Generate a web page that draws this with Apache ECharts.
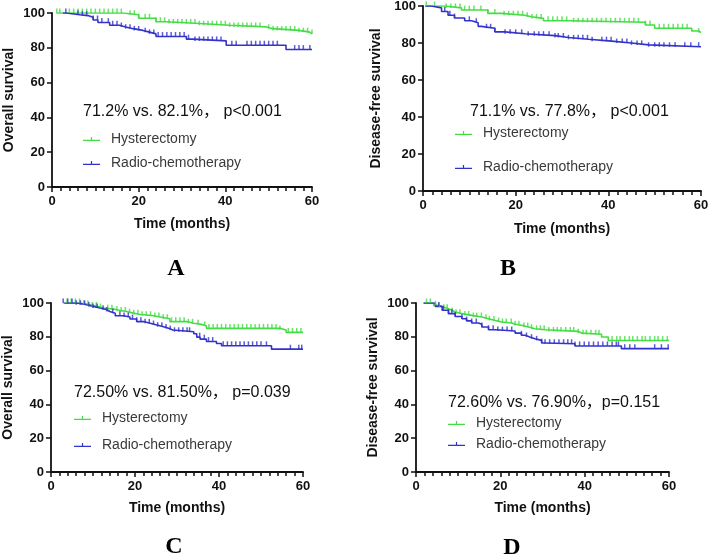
<!DOCTYPE html>
<html><head><meta charset="utf-8">
<script src="https://cdn.jsdelivr.net/npm/echarts/dist/echarts.min.js"></script>
<style>html,body{margin:0;padding:0;background:#fff}#c{width:709px;height:557px}</style>
</head><body><div id="c"></div>
<script>
// ---------- data ----------
const panelLetters = ['A', 'B', 'C', 'D'];
const yTitles = ['Overall survival', 'Disease-free survival', 'Overall survival', 'Disease-free survival'];
const xTitle = 'Time (months)';
const notes = ['71.2% vs. 82.1%， p<0.001', '71.1% vs. 77.8%， p<0.001', '72.50% vs. 81.50%， p=0.039', '72.60% vs. 76.90%，p=0.151'];
const groups = ['Hysterectomy', 'Radio-chemotherapy'];
const xTickValues = [0, 20, 40, 60];
const yTickValues = [0, 20, 40, 60, 80, 100];

// step curves: [time, survival %]
const hystA = [[1,100],[16.4,99],[20,97],[24,95],[26.4,94],[34,93],[41,92],[49.5,91],[51,90],[57,89],[59.5,88],[60,88]];
const radA = [[2.5,100],[3.3,99],[6.4,98.5],[8.3,97.5],[9.5,96],[10.6,94.5],[13.3,93],[15.6,92],[17,91],[18.7,90],[21,89],[22.5,88],[24,86.5],[31,85],[32.5,84],[40.2,81.5],[54,79],[60,79]];
const hystB = [[0.5,100],[4.7,99],[8.3,97.8],[14,96],[17,95],[22,94.2],[23.4,93.3],[26,92],[31.4,91.2],[48,89.7],[50,88],[58,86.5],[59.5,85.7],[60,85.7]];
const radB = [[0.5,100],[1.8,99],[4,97],[5.4,95],[6.8,93.5],[9,92],[10.5,91],[11.9,89],[12.6,88],[15.5,86],[17.7,85],[22,84],[28.5,83],[31.4,82],[35.7,81],[40.7,80],[45,79],[48.7,78],[60,78]];
const hystC = [[3.5,100],[7,99],[9.3,98],[11,97],[12.5,96.4],[14.9,95.6],[16.5,95],[18,94],[19.6,93.3],[21,92.5],[24.4,91.7],[26,90.7],[28.3,89],[32.3,88],[34,87.5],[35.5,86.5],[37,85],[54.5,84],[56,82.6],[60,82.6]];
const radC = [[3,100],[6,99],[8.5,98],[10,97],[11.7,96],[13.3,95],[14,94],[15.3,92.5],[17.3,91.7],[18.8,90.5],[20.4,89],[22,88],[23.6,87],[25.2,86],[26.8,85],[28,84],[29,83],[34,81.8],[34.7,79.8],[35.5,78.6],[37,77.2],[39.4,76],[40.6,74.7],[52.5,72.7],[60,72.7]];
const hystD = [[1.8,100],[4.2,98.6],[5.4,97.6],[6.5,96.6],[7.7,95.7],[8.5,94.7],[9.3,93.7],[10.9,92.7],[13.2,91.7],[15.6,90.7],[17.2,89.7],[18.8,88.8],[20.3,88.2],[22.7,87.4],[23.5,86.8],[25,85.8],[26.7,84.8],[28.2,84.2],[30.6,83.2],[38.5,82.2],[39.3,81.5],[44,79.9],[45.6,77.8],[60,77.8]];
const radD = [[1.8,100],[4.6,98],[6.2,95.7],[7.7,93.7],[9.3,92],[10.9,90.7],[12,89.4],[13.2,88.2],[14.8,87.4],[15.6,85.8],[17.2,84.2],[18.8,83.4],[23.5,82.2],[25,80.9],[25.9,79.9],[27,78.9],[28.2,77.9],[29.8,76.3],[30.6,75.9],[37.7,74.6],[48.7,73],[60,73]];

// censored times (months)
const censHystA = [1.1,1.8,4,5,6,7,8,9,10,11,12,13,14,15,16,18,19,20,21.5,22.5,24,25,26,27,28,29,30,31,32,33,34,35,36,37,38,39,40,41,42,43,44,45,46,47,48,50,51,52,53,54,55,56,57,58,59,60];
const censRadA = [3.2,6,7,8,9.5,10.5,11.5,13,14,15,16,17,18,19,20,21.5,22.5,23.5,24.5,25.5,26.5,27.5,28.5,29.5,30.5,31.5,33,34,35,36,37,38,39,41.5,42.5,45,46,47,48,49,50,51,52,56,57,58,59.5];
const censHystB = [0.7,2.5,5,6,7,8,9,10,11,12.5,14,15.5,17.5,18.5,19.5,20.5,21.5,22.5,23.5,24.5,25.5,27,28,29,30,31,32.5,33.5,34.5,35.5,36.5,37.5,38.5,39.5,40.5,41.5,42.5,43.5,44.5,45.5,46.5,48,49,51,52,53,54,55,56,57,59.5];
const censRadB = [4.7,5.8,6.8,10,11.5,13.7,14.6,15.5,17.7,18.8,20,21.3,22.7,24,25,26,27.2,28.5,29.2,30.3,31.4,32.5,33.5,34.5,35.5,36.5,38.6,39.6,40.6,41.8,43,44,45,46.2,47.2,48.7,50,51,52,53.2,54.4,56.5,57.8,59.5];
const censHystC = [3.8,4.8,5.8,6.8,7.8,8.8,9.8,10.8,11.8,13.5,14.5,15.7,16.7,17.7,18.7,19.7,20.7,21.7,22.7,23.7,24.7,25.7,26.7,27.7,28.7,29.7,30.7,31.7,32.7,33.7,35,36.6,37.6,38.6,39.6,40.6,41.6,42.6,43.6,44.6,45.6,46.6,47.6,48.6,49.6,50.6,51.6,52.6,53.6,54.5,56.5,57.5,58.5,59.5];
const censRadC = [2.9,4,5,6,7,8,9,10,11,12.4,13.3,14.7,16.4,17.4,18.4,19.4,20.4,21.4,22.4,23.4,24.4,25.4,26.4,27.4,28.4,29.4,30.4,31.4,32.4,33,35.4,36.5,37.5,38.5,41,42,43,44,45,46,47,48,49,50,51.3,57,59,59.7];
const censHystD = [2.5,3.4,4.6,5.5,6.6,7.4,8.6,9.5,10.4,11.6,12.5,13.6,14.4,15.5,16.6,17.4,18.5,19.6,20.5,21.4,22.6,23.5,24.4,25.6,26.5,27.4,28.6,29.5,30.4,31.5,32.6,33.5,34.4,35.5,36.6,37.4,38.5,39.6,40.4,41.5,42.6,43.4,46.5,47.6,48.4,49.5,50.6,51.4,52.5,53.6,54.4,55.5,56.6,57.4,58.5,59.6];
const censRadD = [5.4,6.5,7.7,8.5,9.3,10.9,12,13.2,14.3,15.6,17.2,18.3,19.4,20.5,21.6,22.7,25,26.2,27.4,28.6,29.8,30.6,31.7,32.8,33.9,35,36,36.9,37.7,38.8,39.9,41,42.1,43.2,44.3,45.4,46.5,47.5,48,49.5,50.7,51.9,56.6,58.2,59.8];

const hystCurves = [hystA, hystB, hystC, hystD];
const radCurves = [radA, radB, radC, radD];
const hystCens = [censHystA, censHystB, censHystC, censHystD];
const radCens = [censRadA, censRadB, censRadC, censRadD];

// ---------- layout / style ----------
const GREEN = '#44dd44', BLUE = '#3333cc';
const FONT = '"Liberation Sans", Arial, "Noto Sans CJK SC", sans-serif';
const grids = [
  {left: 52, top: 13, width: 260, height: 174},
  {left: 423, top: 6, width: 278, height: 185},
  {left: 51, top: 303, width: 252, height: 169},
  {left: 416, top: 303, width: 253, height: 169}
];
const yNameGap = [36, 40, 36, 36];
const xNameGap = [30, 31, 29, 29];
const notePos = [[83, 112], [470, 112], [74, 393], [448, 403]];
const legendPos = [{left: 83, top: 132, gap: 10}, {left: 455, top: 126, gap: 20}, {left: 74, top: 411, gap: 13}, {left: 448, top: 416, gap: 7}];
const letterPos = [[176, 269], [508, 269], [174, 547], [512, 548]];

function survAt(steps, t) {
  let v = steps[0][1];
  for (const p of steps) { if (p[0] <= t) v = p[1]; else break; }
  return v;
}

const xAxes = [], yAxes = [], series = [], legends = [], graphics = [];
const iconPath = 'path://M0,6L20,6L20,7.4L0,7.4Z M9.3,2.6L10.7,2.6L10.7,6L9.3,6Z';

for (let i = 0; i < 4; i++) {
  xAxes.push({
    type: 'value', gridIndex: i, min: xTickValues[0], max: xTickValues[xTickValues.length - 1],
    interval: xTickValues[1] - xTickValues[0],
    name: xTitle, nameLocation: 'middle', nameGap: xNameGap[i],
    nameTextStyle: {fontFamily: FONT, fontWeight: 'bold', fontSize: 14, color: '#111'},
    axisLine: {show: true, lineStyle: {color: '#111', width: 1.8}},
    axisTick: {show: true, length: 5, lineStyle: {color: '#111', width: 1.5}},
    minorTick: {show: true, splitNumber: 10, length: 4, lineStyle: {color: '#111', width: 1.5}},
    axisLabel: {fontFamily: FONT, fontWeight: 'bold', fontSize: 13, color: '#111', margin: 8},
    splitLine: {show: false}, minorSplitLine: {show: false}
  });
  yAxes.push({
    type: 'value', gridIndex: i, min: yTickValues[0], max: yTickValues[yTickValues.length - 1],
    interval: yTickValues[1] - yTickValues[0],
    name: yTitles[i], nameLocation: 'middle', nameGap: yNameGap[i], nameRotate: 90,
    nameTextStyle: {fontFamily: FONT, fontWeight: 'bold', fontSize: 14, color: '#111'},
    axisLine: {show: true, lineStyle: {color: '#111', width: 1.8}},
    axisTick: {show: true, length: 5, lineStyle: {color: '#111', width: 1.5}},
    axisLabel: {fontFamily: FONT, fontWeight: 'bold', fontSize: 13, color: '#111', margin: 7},
    splitLine: {show: false}
  });
  const curves = [hystCurves[i], radCurves[i]];
  const cens = [hystCens[i], radCens[i]];
  const cols = [GREEN, BLUE];
  for (let g = 0; g < 2; g++) {
    series.push({
      type: 'line', name: groups[g], xAxisIndex: i, yAxisIndex: i, step: 'end',
      data: curves[g], showSymbol: false, symbol: 'none',
      lineStyle: {color: cols[g], width: 1.6}, itemStyle: {color: cols[g]},
      z: 3, silent: true
    });
    series.push({
      type: 'scatter', name: groups[g] + ' censored', xAxisIndex: i, yAxisIndex: i,
      data: cens[g].map(t => [t, survAt(curves[g], t)]),
      symbol: 'rect', symbolSize: [1.5, 4.5], symbolOffset: [0, -2.2],
      itemStyle: {color: cols[g]}, z: 4, silent: true
    });
  }
  legends.push({
    data: groups.slice(), orient: 'vertical', left: legendPos[i].left, top: legendPos[i].top,
    itemGap: legendPos[i].gap, itemWidth: 17, itemHeight: 7, icon: iconPath, padding: 0,
    selectedMode: false,
    textStyle: {fontFamily: FONT, fontSize: 14, color: '#3a3a3a', padding: [0, 0, 0, 6]}
  });
  graphics.push({
    type: 'text', x: notePos[i][0], y: notePos[i][1],
    style: {text: notes[i], fontFamily: FONT, fontSize: 16, fill: '#111', verticalAlign: 'middle', align: 'left'}
  });
  graphics.push({
    type: 'text', x: letterPos[i][0], y: letterPos[i][1],
    style: {text: panelLetters[i], fontFamily: '"Liberation Serif", "Times New Roman", serif', fontWeight: 'bold', fontSize: 24, fill: '#000', verticalAlign: 'middle', align: 'center'}
  });
}

const chart = echarts.init(document.getElementById('c'), null, {renderer: 'canvas'});
chart.setOption({
  animation: false,
  backgroundColor: '#fff',
  grid: grids.map(g => Object.assign({containLabel: false, outerBoundsMode: 'none'}, g)),
  xAxis: xAxes, yAxis: yAxes, series: series, legend: legends,
  graphic: graphics
});
</script></body></html>
